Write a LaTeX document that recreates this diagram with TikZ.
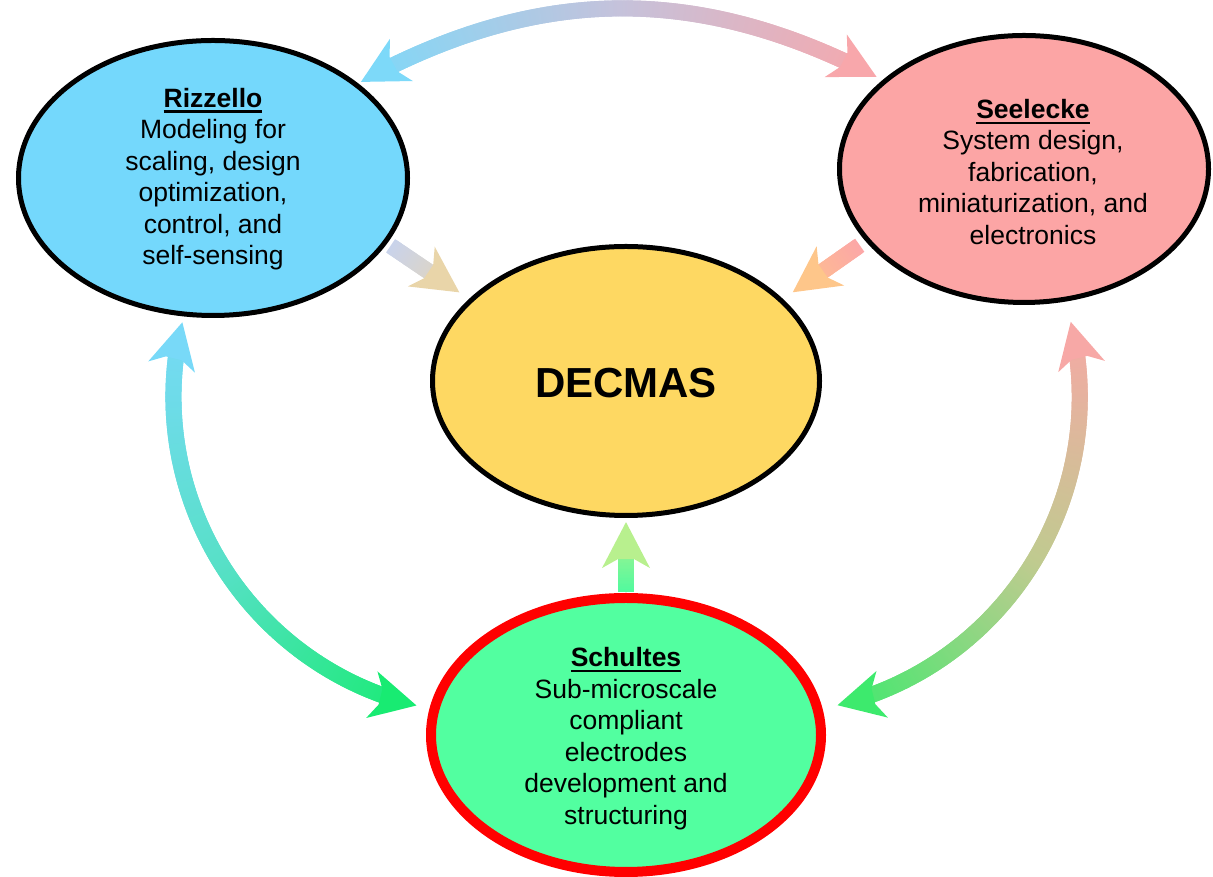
\documentclass[tikz,border=0pt]{standalone}
\usepackage{fontspec}
\setmainfont{Liberation Sans}
\usetikzlibrary{shapes.geometric,decorations.markings,calc}

\definecolor{rizblue}{HTML}{74D8FC}
\definecolor{seepink}{HTML}{FCA5A5}
\definecolor{decgold}{HTML}{FED862}
\definecolor{schgreen}{HTML}{52FFA0}
% arc colours: start, middle, end
\definecolor{topA}{HTML}{7DD9F9}
\definecolor{topB}{HTML}{C5C2DB}
\definecolor{topC}{HTML}{F8A7AB}
\definecolor{leftA}{HTML}{78D9F8}
\definecolor{leftB}{HTML}{58E0C8}
\definecolor{leftC}{HTML}{18EB72}
\definecolor{rightA}{HTML}{F7A8A6}
\definecolor{rightB}{HTML}{BFCB8F}
\definecolor{rightC}{HTML}{3DEA6D}
\definecolor{rdA}{HTML}{C9D3EB}
\definecolor{rdB}{HTML}{D8D4D0}
\definecolor{rdC}{HTML}{E9D5A9}
\definecolor{sdA}{HTML}{FCA7A7}
\definecolor{sdB}{HTML}{FDB698}
\definecolor{sdC}{HTML}{FEC68A}
\definecolor{cdA}{HTML}{52FA9E}
\definecolor{cdB}{HTML}{86F595}
\definecolor{cdC}{HTML}{B8F08E}

\newcommand\teamlead[1]{\setbox0=\hbox{\bfseries #1}\rlap{\rule[-5.5pt]{\wd0}{2.4pt}}\box0}

\begin{document}
\begin{tikzpicture}[x=1pt, y=1pt,
    blob/.style={ellipse, draw, line width=5pt, inner sep=0pt},
    blurb/.style={align=center, font=\fontsize{26.5}{31.5}\selectfont},
    flow/.style n args={4}{postaction={decorate, decoration={markings,
      mark=between positions #1 and -36pt step 1.5pt with {
        \pgfmathsetmacro\flowpos{\pgfkeysvalueof{/pgf/decoration/mark info/distance from start}/\pgfdecoratedpathlength}
        \ifdim\flowpos pt<0.5pt
          \pgfmathsetmacro\flowpct{200*\flowpos}\colorlet{flowtint}{#3!\flowpct!#2}
        \else
          \pgfmathsetmacro\flowpct{200*\flowpos-100}\colorlet{flowtint}{#4!\flowpct!#3}
        \fi
        \fill[flowtint] (-1.6pt,-8pt) rectangle (1.6pt,8pt);}}}},
    tip end/.style={postaction={decorate, decoration={markings,
      mark=at position 0.999 with {\fill[#1] (0pt,0pt) -- (-46pt,24pt) -- (-37pt,8pt) -- (-37pt,-8pt) -- (-46pt,-24pt) -- cycle;}}}},
    tip start/.style={postaction={decorate, decoration={markings,
      mark=at position 0 with {\fill[#1] (0pt,0pt) -- (46pt,24pt) -- (37pt,8pt) -- (37pt,-8pt) -- (46pt,-24pt) -- cycle;}}}}]
  \useasboundingbox (0,0) rectangle (1213,877);

  % the four groups
  \node[blob, fill=rizblue, minimum width=389pt, minimum height=275pt] (riz) at (213,699) {};
  \node[blob, fill=seepink, minimum width=369pt, minimum height=267pt] (see) at (1024,708) {};
  \node[blob, fill=decgold, minimum width=387pt, minimum height=269pt] (dec) at (626,496) {};
  \node[blob, draw=red, line width=10pt, fill=schgreen, minimum width=390pt, minimum height=274pt] (sch) at (626,142) {};

  \node[blurb] (riztxt) at ([yshift=-1pt]riz.center) {\teamlead{Rizzello}\\Modeling for\\scaling, design\\optimization,\\control, and\\self-sensing};
  \node[blurb] (seetxt) at ([shift={(9pt,-3pt)}]see.center) {\teamlead{Seelecke}\\System design,\\fabrication,\\miniaturization, and\\electronics};
  \node[font=\fontsize{42}{50}\selectfont\bfseries] (dectxt) at ([yshift=-2pt]dec.center) {DECMAS};
  \node[blurb] (schtxt) at ([yshift=-3.5pt]sch.center) {\teamlead{Schultes}\\Sub-microscale\\compliant\\electrodes\\development and\\structuring};

  % arrow ends, set a little off the rims
  \coordinate (topL) at ($(riz.33)!-3pt!(riz.center)$);
  \coordinate (topR) at ($(see.148)!-6pt!(see.center)$);
  \coordinate (leftT) at ($(riz.-102)!-6pt!(riz.center)$);
  \coordinate (leftB) at ($(sch.172)!-13pt!(sch.center)$);
  \coordinate (rightT) at ($(see.-73)!-21pt!(see.center)$);
  \coordinate (rightB) at ($(sch.8)!-15pt!(sch.center)$);
  \coordinate (rdTail) at ($(riz.-21)!-6pt!(riz.center)$);
  \coordinate (rdTip) at ($(dec.152)!-12pt!(dec.center)$);
  \coordinate (sdTail) at ($(see.205)!-9pt!(see.center)$);
  \coordinate (sdTip) at ($(dec.28)!-12pt!(dec.center)$);
  \coordinate (cdTail) at ($(sch.90)!-3pt!(sch.center)$);
  \coordinate (cdTip) at ($(dec.-90)!-4pt!(dec.center)$);

  % two-way arcs between the groups
  \path[flow={36pt}{topA}{topB}{topC}, tip start=topA, tip end=topC] (topL) to[bend left=28] (topR);
  \path[flow={36pt}{leftA}{leftB}{leftC}, tip start=leftA, tip end=leftC] (leftT) to[bend right=45] (leftB);
  \path[flow={36pt}{rightA}{rightB}{rightC}, tip start=rightA, tip end=rightC] (rightT) to[bend left=45] (rightB);

  % feeds into DECMAS
  \path[flow={0pt}{rdA}{rdB}{rdC}, tip end=rdC] (rdTail) -- (rdTip);
  \path[flow={0pt}{sdA}{sdB}{sdC}, tip end=sdC] (sdTail) -- (sdTip);
  \path[flow={0pt}{cdA}{cdB}{cdC}, tip end=cdC] (cdTail) -- (cdTip);
\end{tikzpicture}
\end{document}
